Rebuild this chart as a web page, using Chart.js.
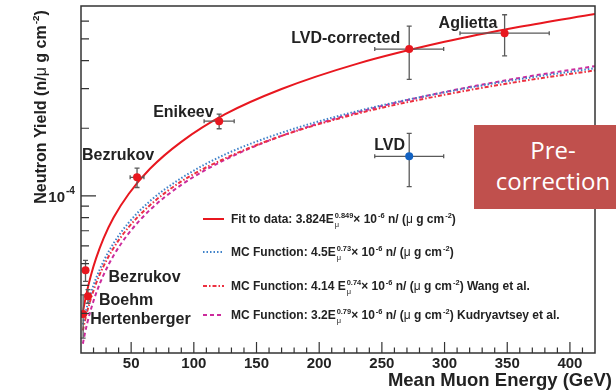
<!DOCTYPE html>
<html>
<head>
<meta charset="utf-8">
<script src="https://cdn.jsdelivr.net/npm/chart.js@4.4.0/dist/chart.umd.min.js"></script>
<style>
  html, body { margin: 0; padding: 0; background: #fff; }
  #wrap { position: relative; width: 616px; height: 392px; overflow: hidden; }
  #myChart { display: block; }
  #tag {
    position: absolute; left: 474px; top: 125px; width: 142px; height: 84px;
    box-sizing: border-box; padding: 9px 0 0 16px;
    background: #c0504d; color: #fff; text-align: center;
    font: 24px/31px "Open Sans", sans-serif;
  }
</style>
</head>
<body>
<div id="wrap">
  <canvas id="myChart" width="616" height="392"></canvas>
  <div id="tag">Pre-<br>correction</div>
</div>
<script>
// ── Curve samples ────────────────────────────────────────────────────────────
const curveE = [11.5, 13, 15, 18, 22, 28, 36, 48, 65, 90, 125, 170, 230, 300, 360, 420];
const fitY   = [3.04e-5, 3.37e-5, 3.81e-5, 4.45e-5, 5.27e-5, 6.47e-5, 8.01e-5, 1.02e-4,
                1.32e-4, 1.74e-4, 2.31e-4, 2.99e-4, 3.87e-4, 4.85e-4, 5.66e-4, 6.45e-4];
const mcY    = [2.68e-5, 2.93e-5, 3.25e-5, 3.71e-5, 4.30e-5, 5.12e-5, 6.16e-5, 7.60e-5,
                9.48e-5, 1.20e-4, 1.53e-4, 1.91e-4, 2.38e-4, 2.89e-4, 3.31e-4, 3.70e-4];
const wangY  = [2.52e-5, 2.76e-5, 3.07e-5, 3.51e-5, 4.08e-5, 4.87e-5, 5.87e-5, 7.26e-5,
                9.09e-5, 1.16e-4, 1.47e-4, 1.85e-4, 2.32e-4, 2.82e-4, 3.23e-4, 3.62e-4];
const kudY   = [2.20e-5, 2.43e-5, 2.72e-5, 3.14e-5, 3.68e-5, 4.45e-5, 5.43e-5, 6.81e-5,
                8.66e-5, 1.12e-4, 1.45e-4, 1.85e-4, 2.35e-4, 2.90e-4, 3.35e-4, 3.78e-4];

// ── Measurements ─────────────────────────────────────────────────────────────
const ptLabels = ["Hertenberger", "Boehm", "Bezrukov", "Bezrukov", "Enikeev", "LVD-corrected", "Aglietta"];
const ptE      = [11.7, 15.6, 13.6, 54.7, 120.2, 271.8, 347.9];
const ptY      = [2.98e-5, 3.58e-5, 4.67e-5, 1.21e-4, 2.15e-4, 4.5e-4, 5.3e-4];
const ptErrE   = [0, 0, 0, 5.5, 12, 27.5, 35.6];
const ptErrY   = [0.65e-5, 0.25e-5, 0.5e-5, 0.12e-4, 0.16e-4, 1.2e-4, 1.1e-4];

const lvdLabels = ["LVD"];
const lvdE      = [271.8];
const lvdY      = [1.5e-4];
const lvdErrE   = [27.5];
const lvdErrY   = [0.4e-4];

// ── Axis ticks ───────────────────────────────────────────────────────────────
const xTicks      = [50, 100, 150, 200, 250, 300, 350, 400];
const xTickLabels = ["50", "100", "150", "200", "250", "300", "350", "400"];
const yTicks      = [1e-4];
const yTickLabels = [["10", "-4"]];

// ── Styles ───────────────────────────────────────────────────────────────────
const FONT  = '"Liberation Sans", Arial, Helvetica, sans-serif';
const INK   = "#222";
const RED   = "#e8171f";
const BLUE  = "#1262c2";
const MU    = "\u03bc";

// label offsets in px from the marker (left edge / baseline)
const labelOffsets = [[7, 10], [11, 9], [23, 12], [-55, -17], [-66, -4], [-118, -6], [-66, -5]];
const lvdOffsets   = [[-35, -6]];

const legendRows = [
  { y: 219, color: RED,       dash: [],        width: 2,
    parts: ["Fit to data: 3.824E", ["ss", MU, "0.849"], "\u00d7 10", ["sup", "-6"], " n/ (", ["mu"], " g cm", ["sup", "-2"], ")"] },
  { y: 252, color: "#3f82c9", dash: [1.5, 2],  width: 1.8,
    parts: ["MC Function: 4.5E", ["ss", MU, "0.73"], "\u00d7 10", ["sup", "-6"], " n/ (", ["mu"], " g cm", ["sup", "-2"], ")"] },
  { y: 286, color: "#ec3040", dash: [4, 2, 1.5, 2], width: 1.8,
    parts: ["MC Function: 4.14 E", ["ss", MU, "0.74"], "\u00d7 10", ["sup", "-6"], " n/ (", ["mu"], " g cm", ["sup", "-2"], ") Wang et al."] },
  { y: 315, color: "#cc2b9c", dash: [4, 3],    width: 2,
    parts: ["MC Function: 3.2E", ["ss", MU, "0.79"], "\u00d7 10", ["sup", "-6"], " n/ (", ["mu"], " g cm", ["sup", "-2"], ") Kudryavtsey et al."] },
];

// ── Rich text helper (super/subscripts) ──────────────────────────────────────
function richText(ctx, parts, x, y, size, draw) {
  let cx = x;
  parts.forEach(p => {
    const [kind, a, b] = typeof p === "string" ? ["txt", p] : p;
    if (kind === "txt") {
      ctx.font = `bold ${size}px ${FONT}`;
      if (draw) ctx.fillText(a, cx, y);
      cx += ctx.measureText(a).width;
    } else if (kind === "mu") {
      ctx.font = `${size}px ${FONT}`;
      if (draw) ctx.fillText(MU, cx, y);
      cx += ctx.measureText(MU).width;
    } else if (kind === "sup") {
      ctx.font = `bold ${size * 0.62}px ${FONT}`;
      if (draw) ctx.fillText(a, cx + 1, y - size * 0.45);
      cx += ctx.measureText(a).width + 1;
    } else if (kind === "ss") {
      ctx.font = `${size * 0.62}px ${FONT}`;
      const w1 = ctx.measureText(a).width;
      if (draw) ctx.fillText(a, cx + 1, y + size * 0.3);
      ctx.font = `bold ${size * 0.62}px ${FONT}`;
      const w2 = ctx.measureText(b).width;
      if (draw) ctx.fillText(b, cx + 1, y - size * 0.45);
      cx += Math.max(w1, w2) + 1;
    }
  });
  return cx - x;
}

// ── Error bars, drawn under each marker dataset ──────────────────────────────
const errorBars = {
  id: "errorBars",
  beforeDatasetDraw(chart, args) {
    const ds = chart.data.datasets[args.index];
    if (!ds.errY) return;
    const { ctx, scales: { x, y } } = chart;
    ctx.save();
    ctx.strokeStyle = "#5a5a5a";
    ctx.lineWidth = 1.3;
    ds.data.forEach((p, i) => {
      const px = x.getPixelForValue(p.x);
      const py = y.getPixelForValue(p.y);
      ctx.beginPath();
      if (ds.errY[i] > 0) {
        const y0 = y.getPixelForValue(p.y - ds.errY[i]);
        const y1 = y.getPixelForValue(p.y + ds.errY[i]);
        ctx.moveTo(px, y0); ctx.lineTo(px, y1);
        ctx.moveTo(px - 2.5, y0); ctx.lineTo(px + 2.5, y0);
        ctx.moveTo(px - 2.5, y1); ctx.lineTo(px + 2.5, y1);
      }
      if (ds.errE[i] > 0) {
        const x0 = x.getPixelForValue(p.x - ds.errE[i]);
        const x1 = x.getPixelForValue(p.x + ds.errE[i]);
        ctx.moveTo(x0, py); ctx.lineTo(x1, py);
        ctx.moveTo(x0, py - 2); ctx.lineTo(x0, py + 2);
        ctx.moveTo(x1, py - 2); ctx.lineTo(x1, py + 2);
      }
      ctx.stroke();
    });
    ctx.restore();
  },
};

// ── Frame, ticks, labels, legend ─────────────────────────────────────────────
const decorations = {
  id: "decorations",
  afterDraw(chart) {
    const { ctx, chartArea: a, scales: { x, y } } = chart;
    ctx.save();

    // frame
    ctx.strokeStyle = "#333";
    ctx.lineWidth = 1.5;
    ctx.strokeRect(a.left, a.top, a.right - a.left, a.bottom - a.top);

    // x ticks (inside)
    ctx.lineWidth = 1.2;
    ctx.beginPath();
    for (let v = x.min + 10; v < x.max; v += 10) {
      const px = x.getPixelForValue(v);
      ctx.moveTo(px, a.bottom);
      ctx.lineTo(px, a.bottom - (xTicks.includes(v) ? 11 : 5.5));
    }
    // y ticks (log, inside)
    [1e-5, 1e-4].forEach(d => {
      for (let m = 1; m <= 9; m++) {
        const v = m * d;
        if (v <= y.min * 1.001 || v >= y.max * 0.999) continue;
        const py = y.getPixelForValue(v);
        ctx.moveTo(a.left, py);
        ctx.lineTo(a.left + (yTicks.includes(v) ? 15 : 8), py);
      }
    });
    ctx.stroke();

    ctx.fillStyle = INK;
    ctx.textBaseline = "alphabetic";

    // x tick labels
    ctx.font = `bold 15px ${FONT}`;
    ctx.textAlign = "center";
    xTicks.forEach((v, i) => ctx.fillText(xTickLabels[i], x.getPixelForValue(v), 368));

    // y tick labels
    yTicks.forEach((v, i) => {
      const py = y.getPixelForValue(v);
      ctx.textAlign = "right";
      ctx.font = `bold 15px ${FONT}`;
      ctx.fillText(yTickLabels[i][0], 65, py + 6);
      ctx.textAlign = "left";
      ctx.font = `bold 10px ${FONT}`;
      ctx.fillText(yTickLabels[i][1], 66, py - 2);
    });

    // axis titles
    ctx.textAlign = "right";
    ctx.font = `bold 18.5px ${FONT}`;
    ctx.fillText("Mean Muon Energy (GeV)", 612, 386);

    ctx.textAlign = "left";
    const yTitle = ["Neutron Yield (n/", ["mu"], " g cm", ["sup", "-2"], ")"];
    const w = richText(ctx, yTitle, 0, 0, 16, false);
    ctx.translate(46, 107);
    ctx.rotate(-Math.PI / 2);
    richText(ctx, yTitle, -w / 2, 0, 16, true);
    ctx.setTransform(1, 0, 0, 1, 0, 0);

    // point labels
    ctx.font = `bold 16px ${FONT}`;
    ptLabels.forEach((t, i) => {
      const px = x.getPixelForValue(ptE[i]);
      const py = y.getPixelForValue(ptY[i]);
      ctx.fillText(t, px + labelOffsets[i][0], py + labelOffsets[i][1]);
    });
    lvdLabels.forEach((t, i) => {
      const px = x.getPixelForValue(lvdE[i]);
      const py = y.getPixelForValue(lvdY[i]);
      ctx.fillText(t, px + lvdOffsets[i][0], py + lvdOffsets[i][1]);
    });

    // legend
    legendRows.forEach(r => {
      ctx.strokeStyle = r.color;
      ctx.lineWidth = r.width;
      ctx.setLineDash(r.dash);
      ctx.beginPath();
      ctx.moveTo(203, r.y); ctx.lineTo(224, r.y);
      ctx.stroke();
      ctx.setLineDash([]);
      ctx.fillStyle = INK;
      richText(ctx, r.parts, 231, r.y + 4, 12, true);
    });

    ctx.restore();
  },
};

// ── Chart ────────────────────────────────────────────────────────────────────
const toXY = (xs, ys) => xs.map((v, i) => ({ x: v, y: ys[i] }));
const curve = (label, ys, color, dash, width) => ({
  label, data: toXY(curveE, ys), borderColor: color, borderDash: dash, borderWidth: width,
  pointRadius: 0, fill: false, cubicInterpolationMode: "monotone",
});

new Chart(document.getElementById("myChart").getContext("2d"), {
  type: "line",
  data: {
    datasets: [
      { label: "Data", data: toXY(ptE, ptY), errE: ptErrE, errY: ptErrY, showLine: false,
        pointRadius: 4, pointBackgroundColor: RED, pointBorderWidth: 0 },
      { label: "LVD", data: toXY(lvdE, lvdY), errE: lvdErrE, errY: lvdErrY, showLine: false,
        pointRadius: 4, pointBackgroundColor: BLUE, pointBorderWidth: 0 },
      curve("Fit to data",       fitY,  RED,       [],             2),
      curve("MC 4.5E^0.73",      mcY,   "#3f82c9", [1.5, 2],       2),
      curve("MC Wang",           wangY, "#ec3040", [4, 2, 1.5, 2], 2),
      curve("MC Kudryavtsev",    kudY,  "#cc2b9c", [4, 3],         2),
    ],
  },
  options: {
    responsive: false,
    animation: false,
    layout: { padding: { left: 81, right: 21, top: 6, bottom: 39 } },
    plugins: { legend: { display: false }, tooltip: { enabled: false } },
    scales: {
      x: { type: "linear", min: 10, max: 420, display: false },
      y: { type: "logarithmic", min: 2e-5, max: 7e-4, display: false },
    },
  },
  plugins: [errorBars, decorations],
});
</script>
</body>
</html>
